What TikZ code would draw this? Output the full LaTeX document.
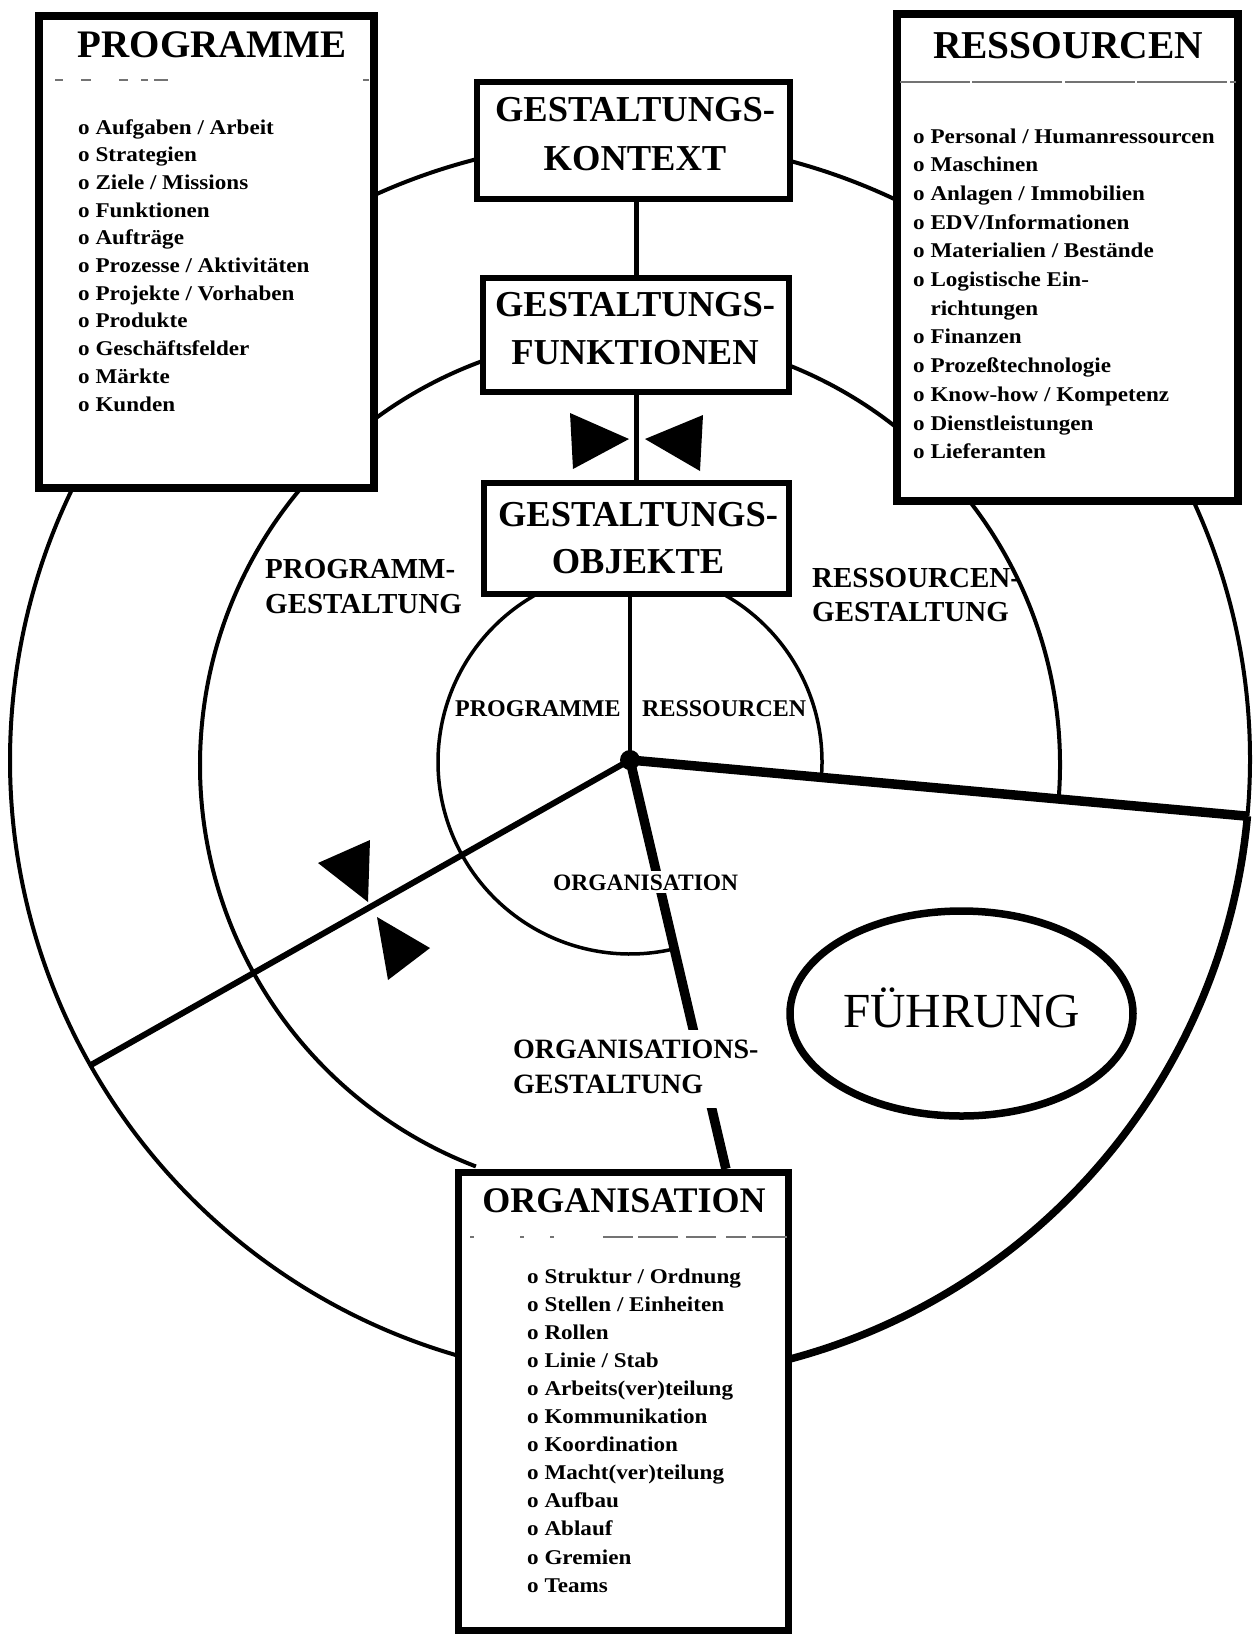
\documentclass[tikz,border=0pt]{standalone}
\usepackage{fontspec}
\setmainfont{Liberation Serif}
\newfontfamily\listfont{Liberation Serif}[FakeStretch=1.1]
\usetikzlibrary{shapes.geometric}

% bold heading text of a given size
\newcommand\hfnt[1]{\fontsize{#1pt}{#1pt}\selectfont\bfseries}
% multi-line bold label: size, line distance, column type, lines
\newcommand\txtstack[4]{{\fontsize{#1pt}{#2pt}\selectfont\bfseries\begin{tabular}[t]{@{}#3@{}}#4\end{tabular}}}
% bullet list inside the three list boxes: line distance, lines
\newcommand\itemstack[2]{{\listfont\fontsize{21pt}{#1pt}\selectfont\bfseries\begin{tabular}[t]{@{}l@{}}#2\end{tabular}}}

\begin{document}
\begin{tikzpicture}[x=1pt,y=-1pt,
  ring/.style={line width=4pt},
  innerring/.style={line width=3.5pt},
  spoke/.style={line width=6pt},
  heavyspoke/.style={line width=9.5pt},
  listbox/.style={draw, line width=8pt, fill=white, rectangle, inner sep=0pt},
  designbox/.style={draw, line width=6pt, fill=white, rectangle, inner sep=0pt},
  plain/.style={inner sep=0pt},
  masked/.style={fill=white, inner sep=4pt},
  rule/.style={line width=1.2pt, black!55},
]
\fill[white] (0,0) rectangle (1259,1642);
\useasboundingbox (0,0) rectangle (1259,1642);

% centres of the rings
\coordinate (hub)  at (630,760);
\coordinate (midc) at (630,765);
\coordinate (innc) at (630,762);

% outer ring: thin part, heavy part in the leadership sector
\draw[ring] (hub) ++(5.2:620) arc[start angle=5.2, end angle=-256, radius=620];
\draw[line width=7.5pt] (hub) ++(5.2:620) arc[start angle=5.2, end angle=77, radius=620];
% middle ring
\draw[ring] (midc) ++(5:430) arc[start angle=5, end angle=-249, radius=430];
% inner ring
\draw[innerring] (innc) ++(5:192) arc[start angle=5, end angle=-283, radius=192];

% spokes from the hub
\path (hub) ++(5.2:620)  coordinate (rimR);
\path (hub) ++(150.5:620) coordinate (rimL);
\path (hub) ++(76.8:420) coordinate (orgfoot);
\draw[spoke] (hub) -- (rimL);
\draw[heavyspoke] (hub) -- (rimR);
\draw[heavyspoke] (hub) -- (orgfoot);

% boxes
\node[listbox, minimum width=335pt, minimum height=472pt] (programme) at (206.5,252) {};
\node[listbox, minimum width=341pt, minimum height=487pt] (ressourcen) at (1067.5,257.5) {};
\node[listbox, line width=7pt, minimum width=330pt, minimum height=458pt] (organisation) at (623,1401) {};
\node[designbox, minimum width=313pt, minimum height=117pt] (kontext) at (633,140.5) {};
\node[designbox, minimum width=306pt, minimum height=114pt] (funktionen) at (636,335) {};
\node[designbox, minimum width=305pt, minimum height=111pt] (objekte) at (636,538.5) {};

% vertical links of the design chain
\draw[line width=5pt] (funktionen.north) -- (funktionen.north |- kontext.south);
\draw[line width=5pt] (objekte.north) -- (objekte.north |- funktionen.south);
\draw[line width=4pt] (hub) -- (hub |- objekte.south);
\fill (hub) circle[radius=10];

% wedges
\fill (570,413) -- (629,439) -- (573,469) -- cycle;
\fill (703,415) -- (645,439) -- (700,471) -- cycle;
\fill (318,863) -- (370,840) -- (368,902) -- cycle;
\fill (377,917) -- (430,948) -- (388,980) -- cycle;

% box titles and rules
\node[plain, anchor=base, font={\hfnt{39}}] (progtitle) at (212,57) {PROGRAMME};
\node[plain, anchor=base, font={\hfnt{39.5}}] (restitle) at (1068,58) {RESSOURCEN};
\node[plain, anchor=base, font={\hfnt{36}}] (orgtitle) at (624,1212) {ORGANISATION};
\draw[rule, dash pattern=on 8pt off 18pt on 10pt off 28pt on 9pt off 13pt on 7pt off 6pt on 14pt off 195pt on 6pt] (55,80) -- (369,80);
\draw[rule, dash pattern=on 70pt off 2pt on 90pt off 3pt] (900,82) -- (1236,82);
\draw[rule, dash pattern=on 4pt off 46pt on 4pt off 26pt on 4pt off 49pt on 30pt off 5pt on 40pt off 8pt on 30pt off 10pt on 20pt off 6pt on 35pt] (470,1237) -- (787,1237);

% lists
\node[plain, anchor=base west] (proglist) at (78,134) {\itemstack{27.7}{%
o Aufgaben / Arbeit\\
o Strategien\\
o Ziele / Missions\\
o Funktionen\\
o Aufträge\\
o Prozesse / Aktivitäten\\
o Projekte / Vorhaben\\
o Produkte\\
o Geschäftsfelder\\
o Märkte\\
o Kunden}};
\node[plain, anchor=base west] (reslist) at (913,143) {\itemstack{28.7}{%
o Personal / Humanressourcen\\
o Maschinen\\
o Anlagen / Immobilien\\
o EDV/Informationen\\
o Materialien / Bestände\\
o Logistische Ein-\\
\hphantom{o\ }richtungen\\
o Finanzen\\
o Prozeßtechnologie\\
o Know-how / Kompetenz\\
o Dienstleistungen\\
o Lieferanten}};
\node[plain, anchor=base west] (orglist) at (527,1283) {\itemstack{28.1}{%
o Struktur / Ordnung\\
o Stellen / Einheiten\\
o Rollen\\
o Linie / Stab\\
o Arbeits(ver)teilung\\
o Kommunikation\\
o Koordination\\
o Macht(ver)teilung\\
o Aufbau\\
o Ablauf\\
o Gremien\\
o Teams}};

% design chain texts
\node[plain, anchor=base] (kontexttext) at (635,121) {\txtstack{36.5}{49}{c}{GESTALTUNGS-\\KONTEXT}};
\node[plain, anchor=base] (funktionentext) at (635,316) {\txtstack{36.5}{48}{c}{GESTALTUNGS-\\FUNKTIONEN}};
\node[plain, anchor=base] (objektetext) at (638,526) {\txtstack{36.5}{47}{c}{GESTALTUNGS-\\OBJEKTE}};

% sector labels
\node[plain, anchor=base west] (proggest) at (265,578) {\txtstack{29}{35}{l}{PROGRAMM-\\GESTALTUNG}};
\node[plain, anchor=base west] (resgest) at (812,587) {\txtstack{29}{34}{l}{RESSOURCEN-\\GESTALTUNG}};
\node[plain, anchor=base west, font={\hfnt{24}}] (inprog) at (455,716) {PROGRAMME};
\node[plain, anchor=base west, font={\hfnt{24}}] (inres) at (642,716) {RESSOURCEN};
\node[masked, inner sep=3pt, anchor=base west, font={\hfnt{23.5}}] (inorg) at (550,890) {ORGANISATION};
\node[masked, anchor=base west] (orggest) at (509,1058) {\txtstack{28}{35}{l}{ORGANISATIONS-\\GESTALTUNG}};

% leadership
\node[ellipse, draw, line width=7.5pt, minimum width=343pt, minimum height=205pt, inner sep=0pt,
      text height=27pt, text depth=0pt, font={\fontsize{49pt}{49pt}\selectfont}] (fuehrung) at (961.5,1013.5) {FÜHRUNG};
\end{tikzpicture}
\end{document}
